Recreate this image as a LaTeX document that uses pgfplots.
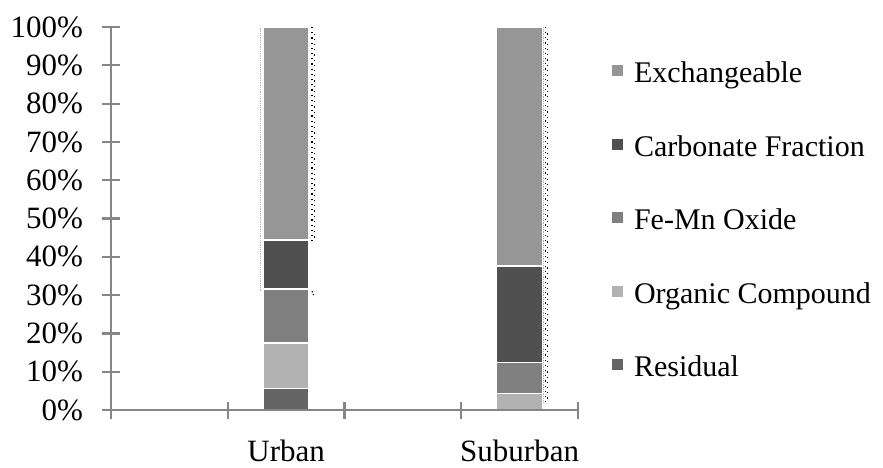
\documentclass[border=0pt]{standalone}
\usepackage{fontspec}
\setmainfont{Liberation Serif}
\usepackage{pgfplots}
\pgfplotsset{compat=1.18}

\definecolor{axisgray}{RGB}{134,134,134}
\definecolor{cExch}{RGB}{150,150,150}
\definecolor{cCarb}{RGB}{80,80,80}
\definecolor{cFeMn}{RGB}{128,128,128}
\definecolor{cOrg}{RGB}{178,178,178}
\definecolor{cRes}{RGB}{100,100,100}

\begin{document}
\begin{tikzpicture}
\useasboundingbox (0,0) rectangle (883pt,467pt);
\begin{axis}[
  at={(111pt,57pt)}, anchor=south west,
  scale only axis, width=467pt, height=383pt,
  font=\fontsize{31}{35}\selectfont,
  /pgf/number format/assume math mode=true,
  xmin=-0.5, xmax=3.5, ymin=0, ymax=100,
  axis x line*=bottom, axis y line*=left,
  axis line style={axisgray, line width=2.2pt},
  every tick/.style={axisgray, line width=2.2pt},
  tick align=center, major tick length=17pt,
  xtick={-0.5,0.5,1.5,2.5,3.5}, xticklabels={},
  extra x ticks={1,3}, extra x tick labels={Urban,Suburban},
  extra x tick style={major tick length=0pt, xticklabel style={yshift=-26pt}},
  ytick={0,10,...,100},
  yticklabel={\pgfmathprintnumber{\tick}\%},
  yticklabel style={xshift=-16pt},
  ybar stacked, bar width=0.39,
  axis on top,
  reverse legend,
  legend cell align=left,
  legend style={at={(1.072,0.913)}, anchor=north west, draw=none, fill=none,
    inner sep=0pt, row sep=44.5pt, font=\fontsize{30}{34}\selectfont,
    nodes={text height=22pt, text depth=7pt, inner ysep=0pt, inner xsep=5pt}},
  legend image code/.code={\path (0pt,0pt) -- (16pt,0pt);
    \fill[#1, draw=none] (0pt,-1pt) rectangle (11pt,10pt);},
]
% Urban at x=1, Suburban at x=3
\addplot[fill=cRes, draw=white, line width=1.2pt] coordinates {(1,5.7) (3,0)};
\addlegendentry{Residual}
\addplot[fill=cOrg, draw=white, line width=1.2pt] coordinates {(1,11.8) (3,4.3)};
\addlegendentry{Organic Compound}
\addplot[fill=cFeMn, draw=white, line width=1.2pt] coordinates {(1,14.1) (3,8.2)};
\addlegendentry{Fe-Mn Oxide}
\addplot[fill=cCarb, draw=white, line width=1.2pt] coordinates {(1,12.8) (3,25.1)};
\addlegendentry{Carbonate Fraction}
\addplot[fill=cExch, draw=white, line width=1.2pt] coordinates {(1,55.6) (3,62.4)};
\addlegendentry{Exchangeable}
\end{axis}
\begin{axis}[
  at={(111pt,57pt)}, anchor=south west,
  scale only axis, width=467pt, height=383pt,
  xmin=-0.5, xmax=3.5, ymin=0, ymax=100,
  hide axis,
]
% dotted guide lines beside the stacks
\addplot[gray!60, densely dotted, line width=0.8pt] coordinates {(0.78,31) (0.78,100)};
\addplot[black, loosely dotted, line width=1.2pt] coordinates {(1.222,44) (1.222,100)};
\addplot[black, loosely dotted, line width=1.2pt] coordinates {(1.24,45) (1.24,99)};
\addplot[black, dotted, line width=1.2pt] coordinates {(1.222,31) (1.235,30)};
\addplot[gray!60, densely dotted, line width=0.8pt] coordinates {(3.205,2) (3.205,100)};
\addplot[black, loosely dotted, line width=1.2pt] coordinates {(3.222,2) (3.222,100)};
\addplot[black, loosely dotted, line width=1.2pt] coordinates {(3.24,3) (3.24,99)};
\end{axis}
\end{tikzpicture}
\end{document}
